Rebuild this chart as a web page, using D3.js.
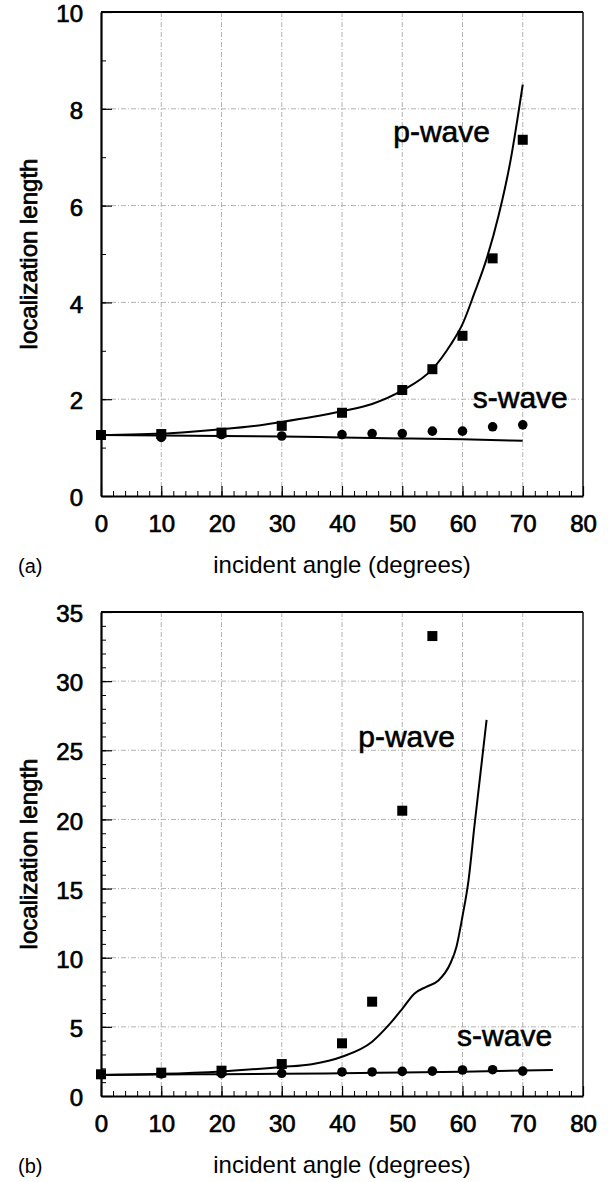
<!DOCTYPE html>
<html>
<head>
<meta charset="utf-8">
<script src="https://cdn.jsdelivr.net/npm/d3@7"></script>
<style>
  body { margin: 0; background: #fff; }
  svg { display: block; font-family: "Liberation Sans", Arial, sans-serif; }
</style>
</head>
<body>
<svg id="fig" width="608" height="1182"></svg>
<script>
// angles on the x axis
var angleTicks = [0, 10, 20, 30, 40, 50, 60, 70, 80]

// panel (a)
var aSquareAngle = [0, 10, 20, 30, 40, 50, 55, 60, 65, 70]
var aPwaveData = [1.26, 1.28, 1.31, 1.45, 1.72, 2.19, 2.62, 3.31, 4.91, 7.36]
var aCircleAngle = [0, 10, 20, 30, 40, 45, 50, 55, 60, 65, 70]
var aSwaveData = [1.26, 1.21, 1.27, 1.24, 1.27, 1.29, 1.29, 1.34, 1.34, 1.43, 1.47]
var aPwaveCurveAngle = [0, 5, 10, 15, 20, 25, 30, 35, 40, 45, 50, 55, 58, 60, 62, 64, 66, 68, 70]
var aPwaveCurve = [1.26, 1.27, 1.29, 1.33, 1.38, 1.44, 1.53, 1.63, 1.75, 1.90, 2.18, 2.62, 3.12, 3.55, 4.2, 4.9, 5.8, 6.95, 8.5]
var aSwaveCurveAngle = [0, 10, 20, 30, 40, 50, 60, 70]
var aSwaveCurve = [1.26, 1.25, 1.24, 1.23, 1.21, 1.19, 1.17, 1.14]
var aYTicks = [0, 2, 4, 6, 8, 10]

// panel (b)
var bSquareAngle = [0, 10, 20, 30, 40, 45, 50, 55]
var bPwaveData = [1.57, 1.69, 1.83, 2.31, 3.81, 6.82, 20.63, 33.26]
var bCircleAngle = [0, 10, 20, 30, 40, 45, 50, 55, 60, 65, 70]
var bSwaveData = [1.55, 1.6, 1.62, 1.64, 1.74, 1.74, 1.78, 1.8, 1.88, 1.9, 1.8]
var bPwaveCurveAngle = [0, 10, 20, 30, 35, 40, 45, 48, 50, 52, 54, 56, 58, 59, 60, 61, 62, 63, 64]
var bPwaveCurve = [1.52, 1.6, 1.78, 2.1, 2.3, 2.84, 3.93, 5.25, 6.3, 7.4, 7.9, 8.35, 9.6, 10.8, 13.0, 15.6, 19.6, 23.4, 27.2]
var bSwaveCurveAngle = [0, 10, 20, 30, 40, 50, 60, 70, 75]
var bSwaveCurve = [1.52, 1.55, 1.58, 1.6, 1.64, 1.7, 1.76, 1.84, 1.88]
var bYTicks = [0, 5, 10, 15, 20, 25, 30, 35]

var svg = d3.select("#fig")
var x = d3.scaleLinear().domain([0, 80]).range([101, 583])

function zip(a, b) { return a.map(function(v, i) { return [v, b[i]] }) }

function panel(p) {
    var y = d3.scaleLinear().domain([0, p.ymax]).range([p.bottom, p.top])
    var g = svg.append("g")

    // grid
    var gridX = angleTicks.slice(1, -1)
    var gridY = p.yTicks.slice(1, -1)
    g.selectAll(".gx").data(gridX).enter().append("line")
        .attr("x1", d => x(d)).attr("x2", d => x(d))
        .attr("y1", p.top).attr("y2", p.bottom)
        .attr("stroke", "#a0a0a0").attr("stroke-width", 0.8).attr("stroke-dasharray", "5,2,1,2")
    g.selectAll(".gy").data(gridY).enter().append("line")
        .attr("x1", x(0)).attr("x2", x(80))
        .attr("y1", d => y(d)).attr("y2", d => y(d))
        .attr("stroke", "#a0a0a0").attr("stroke-width", 0.8).attr("stroke-dasharray", "5,2,1,2")

    // minor ticks
    g.append("g").attr("transform", "translate(0," + p.bottom + ")")
        .call(d3.axisBottom(x).tickValues(d3.range(0, 81, 2)).tickSize(-5).tickSizeOuter(0).tickFormat(""))
        .call(s => s.select(".domain").remove())
    g.append("g").attr("transform", "translate(" + x(0) + ",0)")
        .call(d3.axisLeft(y).tickValues(d3.range(0, p.ymax + 1, 1)).tickSize(-5).tickSizeOuter(0).tickFormat(""))
        .call(s => s.select(".domain").remove())

    // major axes
    var xa = g.append("g").attr("transform", "translate(0," + p.bottom + ")")
        .call(d3.axisBottom(x).tickValues(angleTicks).tickSize(-10).tickSizeOuter(0).tickPadding(19))
    var ya = g.append("g").attr("transform", "translate(" + x(0) + ",0)")
        .call(d3.axisLeft(y).tickValues(p.yTicks).tickSize(-11).tickSizeOuter(0).tickPadding(18))
    ;[xa, ya].forEach(function(a) {
        a.select(".domain").attr("stroke-width", 2.2)
        a.selectAll(".tick line").attr("stroke-width", 1.2)
        a.selectAll("text").attr("font-size", 24).attr("fill", "#000")
            .attr("font-family", "Liberation Sans, Arial, sans-serif")
            .attr("stroke", "#000").attr("stroke-width", 0.7)
    })
    ya.selectAll("text").attr("dy", "0.4em")
    g.selectAll(".tick line").attr("stroke", "#000")

    // frame top and right
    g.append("line").attr("x1", x(0)).attr("x2", x(80)).attr("y1", p.top).attr("y2", p.top)
        .attr("stroke", "#000").attr("stroke-width", 2.2)
    g.append("line").attr("x1", x(80)).attr("x2", x(80)).attr("y1", p.top).attr("y2", p.bottom)
        .attr("stroke", "#000").attr("stroke-width", 1.4)

    // curves
    var line = d3.line().x(d => x(d[0])).y(d => y(d[1])).curve(d3.curveMonotoneX)
    g.append("path").attr("d", line(zip(p.pCurveX, p.pCurve)))
        .attr("fill", "none").attr("stroke", "#000").attr("stroke-width", 2)
    g.append("path").attr("d", line(zip(p.sCurveX, p.sCurve)))
        .attr("fill", "none").attr("stroke", "#000").attr("stroke-width", 2)

    // markers
    g.selectAll(".circ").data(zip(p.cX, p.cY)).enter().append("circle")
        .attr("cx", d => x(d[0])).attr("cy", d => y(d[1])).attr("r", 4.8)
        .attr("fill", "#000")
    g.selectAll(".sq").data(zip(p.sqX, p.sqY)).enter().append("rect")
        .attr("x", d => x(d[0]) - 5).attr("y", d => y(d[1]) - 5)
        .attr("width", 10).attr("height", 10).attr("fill", "#000")

    // curve labels
    g.append("text").attr("x", x(p.pLab[0])).attr("y", y(p.pLab[1]))
        .attr("font-size", 30).attr("stroke", "#000").attr("stroke-width", 0.6).text("p-wave")
    g.append("text").attr("x", x(p.sLab[0])).attr("y", y(p.sLab[1]))
        .attr("font-size", 30).attr("stroke", "#000").attr("stroke-width", 0.6).text("s-wave")

    // titles
    g.append("text").attr("transform", "translate(37," + (p.top + p.bottom) / 2 + ") rotate(-90)")
        .attr("text-anchor", "middle").attr("font-size", 24)
        .attr("stroke", "#000").attr("stroke-width", 0.7)
        .text("localization length")
    g.append("text").attr("x", (x(0) + x(80)) / 2).attr("y", p.bottom + 77)
        .attr("text-anchor", "middle").attr("font-size", 24)
        .text("incident angle (degrees)")
    g.append("text").attr("x", 18).attr("y", p.bottom + 77)
        .attr("font-size", 20).text(p.tag)
}

panel({
    top: 12, bottom: 496, ymax: 10, yTicks: aYTicks, tag: "(a)",
    sqX: aSquareAngle, sqY: aPwaveData, cX: aCircleAngle, cY: aSwaveData,
    pCurveX: aPwaveCurveAngle, pCurve: aPwaveCurve, sCurveX: aSwaveCurveAngle, sCurve: aSwaveCurve,
    pLab: [48.5, 7.31], sLab: [61.7, 1.82]
})
panel({
    top: 612, bottom: 1096, ymax: 35, yTicks: bYTicks, tag: "(b)",
    sqX: bSquareAngle, sqY: bPwaveData, cX: bCircleAngle, cY: bSwaveData,
    pCurveX: bPwaveCurveAngle, pCurve: bPwaveCurve, sCurveX: bSwaveCurveAngle, sCurve: bSwaveCurve,
    pLab: [42.7, 25.26], sLab: [59.1, 3.64]
})
</script>
</body>
</html>
